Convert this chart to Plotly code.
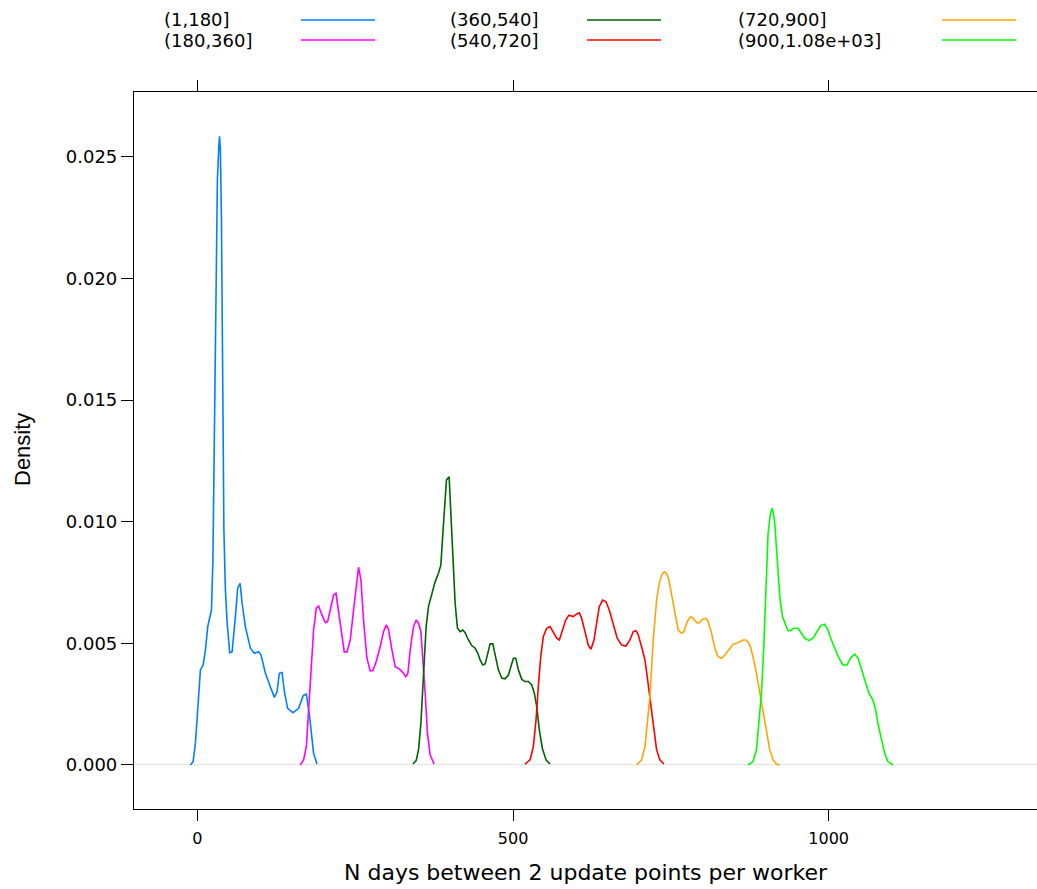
import plotly.graph_objects as go

groups = ["(1,180]", "(180,360]", "(360,540]", "(540,720]", "(720,900]", "(900,1.08e+03]"]
colors = ["#0080ff", "#ff00ff", "#006400", "#ff0000", "#ffa500", "#00ff00"]

x_g1 = [-11.1, -6.8, -3.2, 0.5, 4.7, 9.0, 12.7, 16.3, 19.5, 22.2, 24.5, 26.9, 29.3, 31.6, 33.8, 35.0, 36.3,
        38.0, 40.3, 41.9, 44.3, 47.0, 51.1, 54.9, 60.1, 63.8, 67.6, 70.7, 75.9, 83.9, 90.2, 97.0, 100.8,
        107.6, 115.5, 121.8, 126.1, 129.7, 134.0, 138.1, 142.9, 151.4, 160.3, 167.3, 172.5, 177.7, 184.0, 189.4]
y_g1 = [0.0, 0.00014, 0.00090, 0.00240, 0.00391, 0.00411, 0.00473, 0.00569, 0.00610, 0.00637, 0.00843,
        0.01419, 0.01994, 0.02406, 0.02540, 0.02585, 0.02530, 0.02250, 0.01501, 0.00966, 0.00720, 0.00588,
        0.00462, 0.00465, 0.00610, 0.00728, 0.00747, 0.00666, 0.00569, 0.00480, 0.00459, 0.00466, 0.00452,
        0.00378, 0.00322, 0.00278, 0.00301, 0.00377, 0.00380, 0.00295, 0.00233, 0.00215, 0.00233, 0.00284,
        0.00292, 0.00199, 0.00048, 0.00004]

x_g2 = [163.0, 168.2, 172.5, 176.1, 179.9, 184.0, 188.3, 191.9, 197.3, 202.5, 206.2, 211.6, 215.7, 219.5,
        223.6, 229.0, 232.6, 236.9, 242.1, 247.3, 251.6, 255.2, 259.0, 263.1, 268.5, 273.7, 278.0, 283.2,
        289.5, 294.8, 299.1, 302.7, 308.1, 313.3, 320.1, 325.5, 330.2, 333.4, 337.0, 342.3, 346.5, 350.2,
        354.0, 357.1, 360.8, 364.4, 368.7, 375.0]
y_g2 = [0.0, 0.00021, 0.00075, 0.00213, 0.00377, 0.00555, 0.00644, 0.00654, 0.00617, 0.00585, 0.00589,
        0.00658, 0.00699, 0.00706, 0.00630, 0.00528, 0.00465, 0.00465, 0.00514, 0.00637, 0.00747, 0.00813,
        0.00761, 0.00596, 0.00439, 0.00387, 0.00388, 0.00425, 0.00486, 0.00548, 0.00576, 0.00558, 0.00473,
        0.00404, 0.00394, 0.00380, 0.00363, 0.00377, 0.00473, 0.00569, 0.00596, 0.00583, 0.00548, 0.00445,
        0.00295, 0.00130, 0.00041, 0.00004]

x_g3 = [341.3, 346.5, 350.2, 354.0, 357.1, 359.7, 362.3, 366.0, 371.4, 376.6, 381.8, 385.6, 388.8, 391.3,
        394.5, 398.7, 401.9, 405.5, 408.2, 411.9, 416.1, 420.4, 424.1, 429.3, 434.7, 439.9, 444.2, 447.8,
        452.1, 455.7, 460.0, 463.6, 467.9, 471.5, 476.7, 482.1, 487.3, 492.6, 496.8, 500.5, 504.3, 508.4,
        513.8, 519.0, 524.2, 529.6, 533.7, 537.5, 541.6, 546.4, 552.2, 558.6]
y_g3 = [0.00004, 0.00018, 0.00062, 0.00171, 0.00322, 0.00459, 0.00569, 0.00651, 0.00706, 0.00754, 0.00788,
        0.00822, 0.00953, 0.01062, 0.01172, 0.01185, 0.01035, 0.00815, 0.00665, 0.00562, 0.00548, 0.00555,
        0.00544, 0.00514, 0.00491, 0.00480, 0.00459, 0.00432, 0.00411, 0.00415, 0.00459, 0.00498, 0.00498,
        0.00459, 0.00391, 0.00357, 0.00354, 0.00370, 0.00404, 0.00439, 0.00439, 0.00391, 0.00352, 0.00343,
        0.00343, 0.00329, 0.00295, 0.00240, 0.00144, 0.00069, 0.00021, 0.00004]

x_g4 = [519.0, 526.9, 532.1, 536.4, 540.0, 543.8, 548.0, 553.3, 558.6, 563.8, 569.2, 573.3, 578.6, 583.4,
        588.6, 595.4, 600.8, 604.9, 608.7, 613.9, 619.2, 623.4, 628.2, 632.4, 636.6, 641.9, 647.2, 652.4,
        658.7, 665.0, 672.0, 678.8, 685.1, 690.4, 694.6, 698.3, 703.6, 708.9, 712.5, 715.7, 719.5, 723.1,
        727.4, 732.6, 738.9]
y_g4 = [0.00004, 0.00021, 0.00075, 0.00185, 0.00322, 0.00445, 0.00528, 0.00562, 0.00569, 0.00548, 0.00521,
        0.00514, 0.00555, 0.00596, 0.00616, 0.00610, 0.00621, 0.00626, 0.00603, 0.00548, 0.00493, 0.00476,
        0.00514, 0.00583, 0.00651, 0.00678, 0.00671, 0.00637, 0.00576, 0.00521, 0.00493, 0.00489, 0.00514,
        0.00548, 0.00552, 0.00535, 0.00486, 0.00432, 0.00363, 0.00295, 0.00213, 0.00130, 0.00062, 0.00021,
        0.00004]

x_g5 = [695.7, 703.6, 708.9, 712.5, 716.8, 722.0, 727.4, 731.5, 735.3, 739.4, 743.2, 746.8, 751.1, 756.3,
        761.6, 766.9, 770.6, 775.8, 781.2, 785.3, 790.7, 794.8, 800.2, 805.4, 809.1, 814.4, 819.6, 824.9,
        830.2, 835.5, 843.4, 848.6, 854.0, 859.2, 864.4, 868.7, 872.3, 876.1, 880.2, 885.6, 890.8, 896.0,
        901.4, 906.7, 911.9, 917.3, 922.5]
y_g5 = [0.0, 0.00021, 0.00075, 0.00185, 0.00281, 0.00514, 0.00678, 0.00747, 0.00781, 0.00794, 0.00788,
        0.00761, 0.00699, 0.00624, 0.00555, 0.00542, 0.00548, 0.00589, 0.00610, 0.00603, 0.00585, 0.00585,
        0.00599, 0.00603, 0.00589, 0.00542, 0.00480, 0.00445, 0.00439, 0.00452, 0.00480, 0.00496, 0.00500,
        0.00507, 0.00514, 0.00514, 0.00505, 0.00486, 0.00445, 0.00377, 0.00295, 0.00213, 0.00130, 0.00062,
        0.00021, 0.00003, 0.0]

x_g6 = [872.3, 880.2, 885.6, 889.7, 893.5, 897.2, 900.4, 904.0, 907.8, 910.9, 914.6, 918.2, 922.5, 926.7,
        930.4, 935.6, 939.9, 944.6, 951.4, 956.8, 962.0, 968.8, 975.2, 981.5, 987.4, 993.7, 998.9, 1004.3,
        1009.5, 1016.3, 1022.6, 1029.0, 1034.3, 1041.2, 1046.4, 1051.8, 1057.0, 1063.8, 1070.1, 1074.4,
        1078.0, 1083.4, 1088.6, 1093.8, 1101.8]
y_g6 = [0.0, 0.00014, 0.00062, 0.00171, 0.00295, 0.00486, 0.00720, 0.00953, 0.01035, 0.01056, 0.00994,
        0.00871, 0.00692, 0.00610, 0.00583, 0.00552, 0.00552, 0.00562, 0.00562, 0.00542, 0.00521, 0.00511,
        0.00521, 0.00548, 0.00573, 0.00579, 0.00555, 0.00514, 0.00480, 0.00439, 0.00411, 0.00411, 0.00439,
        0.00456, 0.00439, 0.00391, 0.00350, 0.00295, 0.00267, 0.00226, 0.00171, 0.00103, 0.00048, 0.00014,
        0.0]

x_series = [x_g1, x_g2, x_g3, x_g4, x_g5, x_g6]
y_series = [y_g1, y_g2, y_g3, y_g4, y_g5, y_g6]

x_ticks = [0, 500, 1000]
y_ticks = [0.0, 0.005, 0.010, 0.015, 0.020, 0.025]
y_ticktext = ["0.000", "0.005", "0.010", "0.015", "0.020", "0.025"]

W, H = 1037, 889
ML, MR, MT, MB = 134, 0, 92, 80

fig = go.Figure()
for name, xs, ys, col in zip(groups, x_series, y_series, colors):
    fig.add_trace(go.Scatter(x=xs, y=ys, mode="lines", name=name,
                             line=dict(color=col, width=1.6), showlegend=False))


def paper_x(px):
    return (px - ML) / (W - ML - MR)


def paper_y(py):
    return (H - MB - py) / (H - MB - MT)


# legend: 3 columns x 2 rows, text then line sample
text_x = [162, 162, 448, 448, 736, 736]
line_x0 = [301, 301, 587, 587, 942, 942]
row_y = [20, 40, 20, 40, 20, 40]
annotations = []
shapes = []
for i, name in enumerate(groups):
    annotations.append(dict(x=paper_x(text_x[i]), y=paper_y(row_y[i]), xref="paper", yref="paper",
                            text=name, showarrow=False, xanchor="left", yanchor="middle",
                            font=dict(family="DejaVu Sans", size=18, color="black")))
    shapes.append(dict(type="line", xref="paper", yref="paper",
                       x0=paper_x(line_x0[i]), x1=paper_x(line_x0[i] + 74),
                       y0=paper_y(row_y[i]), y1=paper_y(row_y[i]),
                       line=dict(color=colors[i], width=1.6)))

annotations.append(dict(x=paper_x(586), y=paper_y(872), xref="paper", yref="paper",
                        text="N days between 2 update points per worker", showarrow=False,
                        xanchor="center", yanchor="middle",
                        font=dict(family="DejaVu Sans", size=22, color="black")))
annotations.append(dict(x=paper_x(22), y=paper_y(450), xref="paper", yref="paper",
                        text="Density", showarrow=False, textangle=-90,
                        xanchor="center", yanchor="middle",
                        font=dict(family="Liberation Sans", size=22, color="black")))

fig.update_layout(
    width=W, height=H,
    margin=dict(l=ML, r=MR, t=MT, b=MB, pad=0),
    paper_bgcolor="white", plot_bgcolor="white",
    showlegend=False,
    annotations=annotations,
    shapes=shapes,
    xaxis=dict(range=[-100.5, 1330], tickvals=x_ticks, ticks="outside", ticklen=11, tickwidth=1,
               tickcolor="black", showline=True, linecolor="black", linewidth=1.2, mirror="ticks",
               showgrid=False, zeroline=False, ticklabelstandoff=4,
               tickfont=dict(family="DejaVu Sans", size=16, color="black")),
    yaxis=dict(range=[-0.00181, 0.02767], tickvals=y_ticks, ticktext=y_ticktext, ticks="outside",
               ticklen=12, tickwidth=1, tickcolor="black", showline=True, linecolor="black",
               linewidth=1.2, mirror=False, showgrid=False,
               zeroline=True, zerolinecolor="#e3e3e3", zerolinewidth=1,
               tickfont=dict(family="DejaVu Sans", size=18, color="black")),
)

fig.write_html("out.html")
